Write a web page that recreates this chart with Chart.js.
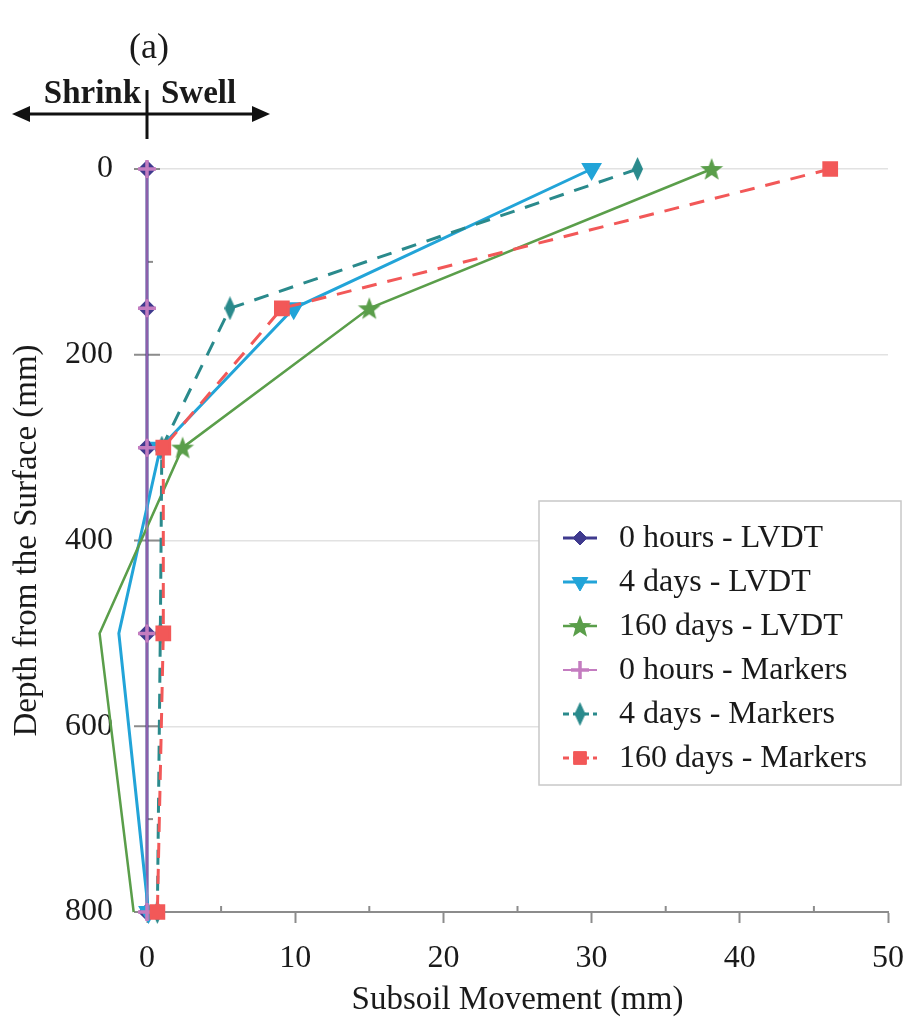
<!DOCTYPE html>
<html>
<head>
<meta charset="utf-8">
<script src="https://cdn.jsdelivr.net/npm/chart.js@4.4.1/dist/chart.umd.min.js"></script>
<style>
  html, body { margin: 0; padding: 0; background: #fff; }
  #wrap { width: 909px; height: 1020px; }
</style>
</head>
<body>
<div id="wrap"><canvas id="subsoilChart" width="909" height="1020"></canvas></div>
<script>
// depth of each measuring point (mm)
const depths = [0, 150, 300, 500, 800];

// subsoil movement (mm) per series
const lvdt0h = [0, 0, 0, 0, 0];
const lvdt4d = [30, 9.9, 0.9, -1.9, 0.1];
const lvdt160d = [38.1, 15, 2.4, -3.2, -0.9];
const markers0h = [0, 0, 0, 0, 0];
const markers4d = [33.1, 5.6, 1.0, 0.9, 0.7];
const markers160d = [46.1, 9.1, 1.1, 1.1, 0.7];

const seriesLabels = [
  "0 hours - LVDT",
  "4 days - LVDT",
  "160 days - LVDT",
  "0 hours - Markers",
  "4 days - Markers",
  "160 days - Markers",
];

const xTickValues = [0, 10, 20, 30, 40, 50];
const xMinorTicks = [5, 15, 25, 35, 45];
const yTickValues = [0, 200, 400, 600, 800];
const yMinorTicks = [100, 300, 500, 700];

const SERIF = "'Liberation Serif', 'DejaVu Serif', serif";

// filled five point star used as point style
function makeStar(color, size) {
  const c = document.createElement("canvas");
  c.width = size;
  c.height = size;
  const g = c.getContext("2d");
  const cx = size / 2, cy = size / 2 + 1, R = size / 2, r = R * 0.42;
  g.fillStyle = color;
  g.beginPath();
  for (let i = 0; i < 10; i++) {
    const a = -Math.PI / 2 + (i * Math.PI) / 5;
    const rad = i % 2 ? r : R;
    g.lineTo(cx + rad * Math.cos(a), cy + rad * Math.sin(a));
  }
  g.closePath();
  g.fill();
  return c;
}

// narrow diamond (thin marker)
function makeThinDiamond(color, w, h) {
  const c = document.createElement("canvas");
  c.width = w;
  c.height = h;
  const g = c.getContext("2d");
  g.fillStyle = color;
  g.beginPath();
  g.moveTo(w / 2, 0);
  g.lineTo(w, h / 2);
  g.lineTo(w / 2, h);
  g.lineTo(0, h / 2);
  g.closePath();
  g.fill();
  return c;
}

function toPoints(xs) {
  return xs.map((x, i) => ({ x: x, y: depths[i] }));
}

const colors = {
  lvdt0h: "#3f3a8e",
  lvdt4d: "#22a4d8",
  lvdt160d: "#5a9e4a",
  markers0h: "#c47cc0",
  markers4d: "#2a8a8c",
  markers160d: "#f25858",
};

const datasets = [
  {
    label: seriesLabels[0],
    data: toPoints(lvdt0h),
    borderColor: colors.lvdt0h,
    backgroundColor: colors.lvdt0h,
    borderWidth: 3,
    pointStyle: "rectRot",
    pointRadius: 7,
    order: 6,
  },
  {
    label: seriesLabels[1],
    data: toPoints(lvdt4d),
    borderColor: colors.lvdt4d,
    backgroundColor: colors.lvdt4d,
    borderWidth: 3,
    pointStyle: "triangle",
    rotation: 180,
    pointRadius: 9,
    order: 5,
  },
  {
    label: seriesLabels[2],
    data: toPoints(lvdt160d),
    borderColor: colors.lvdt160d,
    backgroundColor: colors.lvdt160d,
    borderWidth: 2.5,
    pointStyle: makeStar(colors.lvdt160d, 24),
    pointRadius: 10,
    order: 4,
  },
  {
    label: seriesLabels[3],
    data: toPoints(markers0h),
    borderColor: colors.markers0h,
    backgroundColor: colors.markers0h,
    borderWidth: 0.5,
    pointStyle: "cross",
    pointRadius: 9,
    pointBorderWidth: 3.5,
    order: 3,
  },
  {
    label: seriesLabels[4],
    data: toPoints(markers4d),
    borderColor: colors.markers4d,
    backgroundColor: colors.markers4d,
    borderWidth: 3,
    borderDash: [15, 11],
    pointStyle: makeThinDiamond(colors.markers4d, 11, 24),
    pointRadius: 8,
    order: 2,
  },
  {
    label: seriesLabels[5],
    data: toPoints(markers160d),
    borderColor: colors.markers160d,
    backgroundColor: colors.markers160d,
    borderWidth: 3,
    borderDash: [15, 11],
    pointStyle: "rect",
    pointRadius: 9,
    order: 1,
  },
];

datasets.forEach((ds) => {
  ds.showLine = true;
  ds.fill = false;
  ds.tension = 0;
  ds.clip = false;
  ds.pointHoverRadius = ds.pointRadius;
});

// extra axis marks: minor ticks, y ticks crossing the axis, annotations, legend
const axisMarks = {
  id: "axisMarks",
  beforeDatasetsDraw(chart) {
    const ctx = chart.ctx;
    const xs = chart.scales.x;
    const ys = chart.scales.y;
    const x0 = xs.getPixelForValue(0);
    const yb = ys.getPixelForValue(800);
    ctx.save();
    ctx.strokeStyle = "#8c8c8c";
    ctx.lineWidth = 2;
    xMinorTicks.forEach((v) => {
      const px = xs.getPixelForValue(v);
      ctx.beginPath();
      ctx.moveTo(px, yb);
      ctx.lineTo(px, yb - 6);
      ctx.stroke();
    });
    yMinorTicks.forEach((v) => {
      const py = ys.getPixelForValue(v);
      ctx.beginPath();
      ctx.moveTo(x0, py);
      ctx.lineTo(x0 + 6, py);
      ctx.stroke();
    });
    yTickValues.forEach((v) => {
      const py = ys.getPixelForValue(v);
      ctx.beginPath();
      ctx.moveTo(x0 - 13, py);
      ctx.lineTo(x0 + 13, py);
      ctx.stroke();
    });
    ctx.restore();
  },
  afterDraw(chart) {
    const ctx = chart.ctx;
    const x0 = chart.scales.x.getPixelForValue(0);
    ctx.save();
    // panel label
    ctx.fillStyle = "#1a1a1a";
    ctx.font = "36px " + SERIF;
    ctx.textAlign = "center";
    ctx.textBaseline = "alphabetic";
    ctx.fillText("(a)", x0 + 2, 58);

    // shrink / swell arrow
    ctx.font = "bold 33px " + SERIF;
    ctx.textAlign = "right";
    ctx.fillText("Shrink", x0 - 6, 103);
    ctx.textAlign = "left";
    ctx.fillText("Swell", x0 + 14, 103);
    ctx.strokeStyle = "#111";
    ctx.fillStyle = "#111";
    ctx.lineWidth = 3;
    ctx.beginPath();
    ctx.moveTo(24, 114);
    ctx.lineTo(258, 114);
    ctx.stroke();
    ctx.beginPath();
    ctx.moveTo(x0, 90);
    ctx.lineTo(x0, 139);
    ctx.stroke();
    ctx.beginPath();
    ctx.moveTo(12, 114);
    ctx.lineTo(30, 106);
    ctx.lineTo(30, 122);
    ctx.closePath();
    ctx.fill();
    ctx.beginPath();
    ctx.moveTo(270, 114);
    ctx.lineTo(252, 106);
    ctx.lineTo(252, 122);
    ctx.closePath();
    ctx.fill();
    ctx.restore();

    // legend box
    const box = { left: 539, top: 501, right: 901, bottom: 785 };
    ctx.save();
    ctx.fillStyle = "#fff";
    ctx.fillRect(box.left, box.top, box.right - box.left, box.bottom - box.top);
    ctx.strokeStyle = "#c8c8c8";
    ctx.lineWidth = 1.5;
    ctx.strokeRect(box.left, box.top, box.right - box.left, box.bottom - box.top);
    const rowTop = 538;
    const rowStep = 44;
    chart.data.datasets.forEach((ds, i) => {
      const cy = rowTop + i * rowStep;
      const cx = 580;
      ctx.save();
      ctx.strokeStyle = ds.borderColor;
      ctx.lineWidth = Math.max(ds.borderWidth, 2);
      ctx.setLineDash(ds.borderDash ? [6, 4] : []);
      ctx.beginPath();
      ctx.moveTo(cx - 17, cy);
      ctx.lineTo(cx + 17, cy);
      ctx.stroke();
      ctx.setLineDash([]);
      ctx.fillStyle = ds.backgroundColor;
      ctx.strokeStyle = ds.borderColor;
      ctx.lineWidth = ds.pointBorderWidth || 1;
      Chart.helpers.drawPoint(ctx, {
        pointStyle: ds.pointStyle,
        rotation: ds.rotation || 0,
        radius: ds.pointRadius,
        borderWidth: ds.pointBorderWidth || 1,
      }, cx, cy);
      ctx.restore();
      ctx.fillStyle = "#1a1a1a";
      ctx.font = "32px " + SERIF;
      ctx.textAlign = "left";
      ctx.textBaseline = "middle";
      ctx.fillText(ds.label, 619, cy + 1);
    });
    ctx.restore();
  },
};

const ctx = document.getElementById("subsoilChart").getContext("2d");

const subsoilChart = new Chart(ctx, {
  type: "scatter",
  data: { datasets: datasets },
  options: {
    responsive: false,
    animation: false,
    events: [],
    layout: { padding: { left: 0, right: 21, top: 169, bottom: 0 } },
    plugins: {
      legend: { display: false },
      tooltip: { enabled: false },
    },
    scales: {
      x: {
        type: "linear",
        position: "bottom",
        min: 0,
        max: 50,
        afterBuildTicks: (scale) => {
          scale.ticks = xTickValues.map((v) => ({ value: v }));
        },
        afterFit: (scale) => {
          scale.height = 108;
          scale.paddingLeft = 0;
          scale.paddingRight = 0;
        },
        ticks: {
          color: "#1a1a1a",
          font: { family: SERIF, size: 32 },
          padding: 16,
        },
        grid: {
          drawOnChartArea: false,
          drawTicks: true,
          tickLength: 11,
          tickColor: "#8c8c8c",
          tickWidth: 2,
        },
        border: { display: true, color: "#8c8c8c", width: 2 },
        title: {
          display: true,
          text: "Subsoil Movement (mm)",
          color: "#1a1a1a",
          font: { family: SERIF, size: 33 },
          padding: { top: 0, bottom: 0 },
        },
      },
      y: {
        type: "linear",
        reverse: true,
        min: 0,
        max: 800,
        afterBuildTicks: (scale) => {
          scale.ticks = yTickValues.map((v) => ({ value: v }));
        },
        afterFit: (scale) => {
          scale.width = 147;
          scale.paddingTop = 0;
          scale.paddingBottom = 0;
        },
        ticks: {
          color: "#1a1a1a",
          font: { family: SERIF, size: 32 },
          padding: 34,
        },
        grid: {
          color: "#e2e2e2",
          lineWidth: 1.5,
          drawTicks: false,
        },
        border: { display: false },
        title: {
          display: true,
          text: "Depth from the Surface (mm)",
          color: "#1a1a1a",
          font: { family: SERIF, size: 33 },
          padding: { top: 8, bottom: 0 },
        },
      },
    },
  },
  plugins: [axisMarks],
});
</script>
</body>
</html>
